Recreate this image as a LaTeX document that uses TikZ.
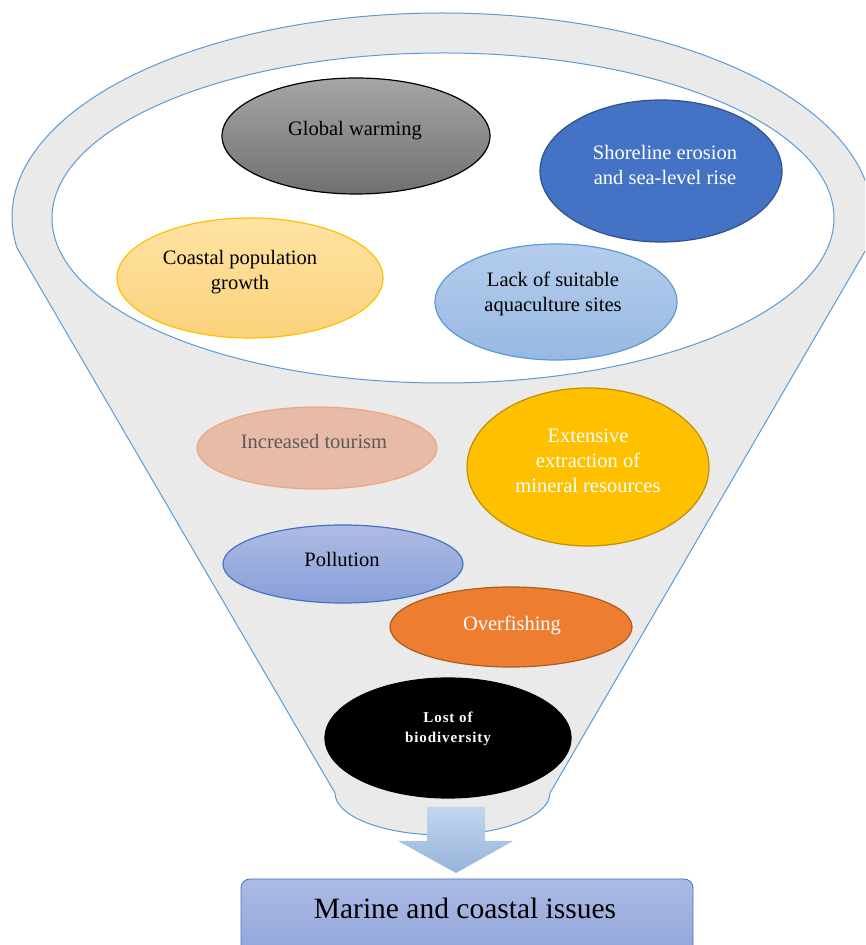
\documentclass[tikz,border=0pt]{standalone}
\usepackage{fontspec}
\setmainfont{Liberation Serif}
\usetikzlibrary{shapes.geometric,calc}
\definecolor{funnelgray}{HTML}{EAEAEA}
\definecolor{edgeblue}{HTML}{5B9BD5}
\definecolor{gwtop}{HTML}{A6A6A6}
\definecolor{gwbot}{HTML}{707070}
\definecolor{shfill}{HTML}{4472C4}
\definecolor{shedge}{HTML}{2F528F}
\definecolor{cotop}{HTML}{FFE3A3}
\definecolor{cobot}{HTML}{FBD27C}
\definecolor{coedge}{HTML}{FFC000}
\definecolor{latop}{HTML}{B5CDEC}
\definecolor{labot}{HTML}{98B8E2}
\definecolor{tofill}{HTML}{E7BBA8}
\definecolor{toedge}{HTML}{F0A47F}
\definecolor{totext}{HTML}{5A5A5A}
\definecolor{exfill}{HTML}{FFC000}
\definecolor{exedge}{HTML}{BF9000}
\definecolor{potop}{HTML}{AEBBE4}
\definecolor{pobot}{HTML}{889FD8}
\definecolor{ovfill}{HTML}{ED7D31}
\definecolor{ovedge}{HTML}{AE5A21}
\definecolor{artop}{HTML}{BFD7EF}
\definecolor{arbot}{HTML}{98B3DA}
\definecolor{bxtop}{HTML}{ACBAE4}
\definecolor{bxbot}{HTML}{8DA2D9}
\tikzset{
  blob/.style={ellipse, inner sep=0pt, line width=1.2pt},
  lbl/.style={align=center, inner sep=0pt, font=\fontsize{20.5}{25}\selectfont},
}
\begin{document}
\begin{tikzpicture}[x=1pt,y=1pt]
\useasboundingbox (0,0) rectangle (865,945);
\clip (0,0) rectangle (865,945);
% funnel
\coordinate (O) at (442,728);
\coordinate (BL) at (335,152);
\coordinate (BR) at (550,152);
\filldraw[fill=funnelgray, draw=edgeblue, line width=1pt]
  ($(O)+(188.7:430 and 204)$) -- (BL)
  arc[start angle=180, end angle=360, x radius=107.5, y radius=42] -- (BR)
  -- ($(O)+(-8.7:430 and 204)$)
  arc[start angle=-8.7, end angle=188.7, x radius=430, y radius=204] -- cycle;
\node[ellipse, fill=white, draw=edgeblue, line width=1pt, inner sep=0pt,
  minimum width=782pt, minimum height=330pt] (inner) at (443,727) {};
% ellipses
\node[blob, draw=black, top color=gwtop, bottom color=gwbot,
  minimum width=268pt, minimum height=116pt] (gw) at (356,809) {};
\node[lbl] (gwt) at (355,814) {Global warming};
\node[blob, draw=shedge, fill=shfill,
  minimum width=242pt, minimum height=142pt] (sh) at (661,774) {};
\node[lbl, text=white] (sht) at (665,780) {Shoreline erosion\\and sea-level rise};
\node[blob, draw=coedge, top color=cotop, bottom color=cobot,
  minimum width=266pt, minimum height=120pt] (co) at (250,667) {};
\node[lbl] (cot) at (240,673) {Coastal population\\growth};
\node[blob, draw=edgeblue, top color=latop, bottom color=labot,
  minimum width=242pt, minimum height=116pt] (la) at (556,643) {};
\node[lbl] (lat) at (553,651) {Lack of suitable\\aquaculture sites};
\node[blob, draw=toedge, fill=tofill,
  minimum width=240pt, minimum height=82pt] (to) at (317,497) {};
\node[lbl, text=totext] (tot) at (314,504) {Increased tourism};
\node[blob, draw=exedge, fill=exfill,
  minimum width=242pt, minimum height=158pt] (ex) at (588,478) {};
\node[lbl, text=white] (ext) at (588,484) {Extensive\\extraction of\\mineral resources};
\node[blob, draw=shfill, top color=potop, bottom color=pobot,
  minimum width=240pt, minimum height=78pt] (po) at (343,381) {};
\node[lbl] (pot) at (342,386) {Pollution};
\node[blob, draw=ovedge, fill=ovfill,
  minimum width=242pt, minimum height=80pt] (ov) at (511,318) {};
\node[lbl, text=white] (ovt) at (512,320) {Overfishing};
\node[blob, draw=black, fill=black,
  minimum width=246pt, minimum height=120pt] (lo) at (448,207) {};
\node[align=center, inner sep=0pt, text=white,
  font=\fontsize{15}{20}\selectfont\bfseries\addfontfeatures{LetterSpace=6}] (lot) at (448,216) {Lost of\\biodiversity};
% arrow
\coordinate (a1) at (427,138);
\coordinate (a2) at (485,138);
\coordinate (a3) at (485,104);
\coordinate (a4) at (513,104);
\coordinate (tip) at (456,72);
\coordinate (a6) at (398,104);
\coordinate (a7) at (427,104);
\shade[top color=artop, bottom color=arbot] (a1) -- (a2) -- (a3) -- (a4) -- (tip) -- (a6) -- (a7) -- cycle;
% box
\node[draw=shfill, line width=0.8pt, rounded corners=9pt, top color=bxtop, bottom color=bxbot,
  minimum width=452pt, minimum height=90pt, inner sep=0pt] (box) at (467,21) {};
\node[inner sep=0pt, font=\fontsize{29.5}{34}\selectfont] (boxt) at (465,37) {Marine and coastal issues};
\end{tikzpicture}
\end{document}
